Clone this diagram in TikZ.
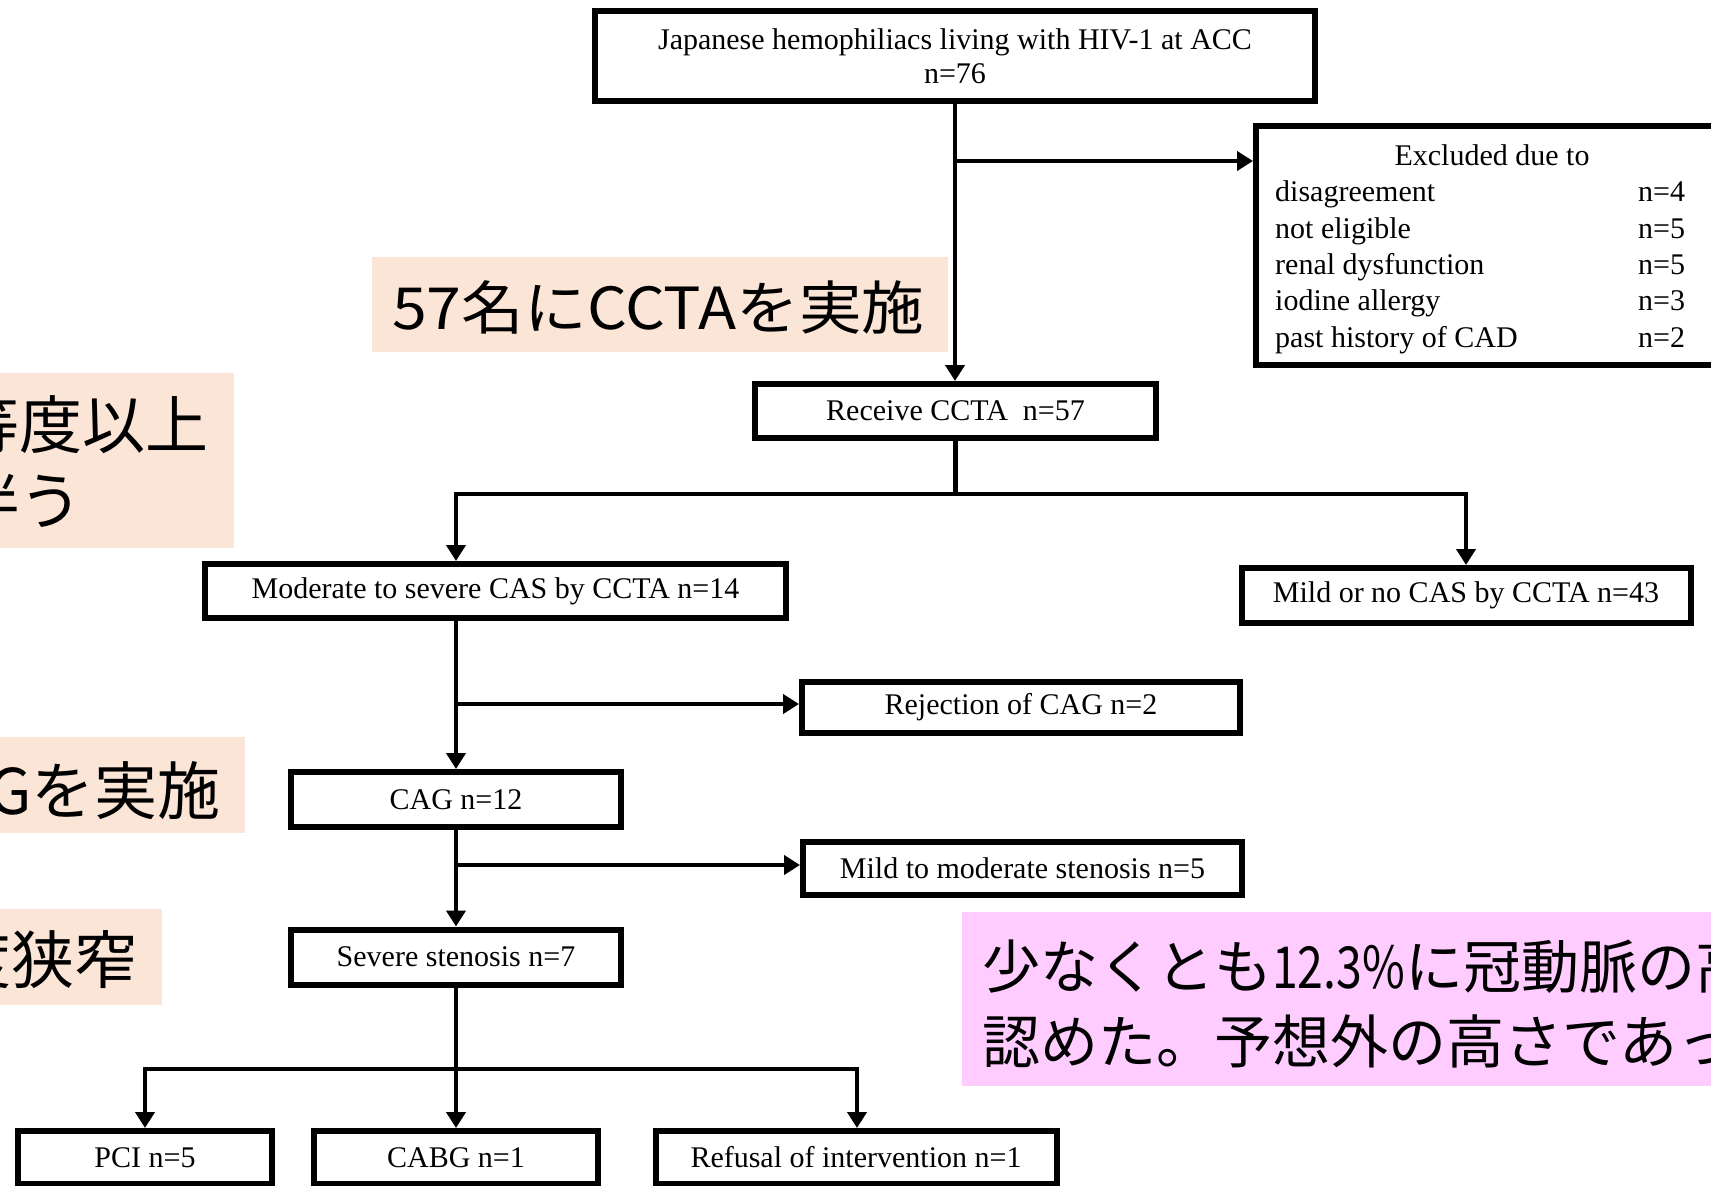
\documentclass[tikz,border=0pt]{standalone}
\usepackage{fontspec}
\usepackage{graphicx}
\setmainfont{Liberation Serif}
\newfontfamily\jpfont{Noto Sans CJK JP}
\usetikzlibrary{arrows.meta}
\definecolor{peach}{HTML}{FBE5D6}
\definecolor{pinkbg}{HTML}{FFCCFF}
\begin{document}
\begin{tikzpicture}[x=1pt,y=-1pt,
  fbox/.style={draw=black, line width=6pt, fill=white, inner sep=0pt, align=center,
    font=\fontsize{30}{34}\selectfont},
  conn/.style={line width=4.5pt, draw=black},
  arr/.style={conn, -{Triangle[width=19pt,length=16pt]}},
  jbox/.style={draw=none, inner sep=0pt, anchor=north west},
  jtext/.style={inner sep=0pt, align=left, font=\jpfont\fontsize{58}{75}\selectfont},
  jbig/.style={inner sep=0pt, align=left, font=\jpfont\fontsize{63}{76}\selectfont},
  extext/.style={inner sep=0pt, anchor=base west, font=\fontsize{30}{36}\selectfont}
]
\useasboundingbox (0,0) rectangle (1711,1186);
\clip (0,0) rectangle (1711,1186);
\fill[white] (0,0) rectangle (1711,1186);

% Japanese annotation boxes
\node[jbox, fill=peach, minimum width=576pt, minimum height=95pt] (ja) at (372,257) {};
\node[jtext, anchor=west] (jat) at ([xshift=20pt,yshift=-3pt]ja.west) {\scalebox{1.08}[1]{57名にCCTAを実施}};

\node[jbox, fill=peach, minimum width=284pt, minimum height=175pt] (jb) at (-50,373) {};
\node[jbig, anchor=west] (jbt) at (-107,462) {中等度以上\\を伴う};

\node[jbox, fill=peach, minimum width=295pt, minimum height=96pt] (jc) at (-50,737) {};
\node[jbig, anchor=east] (jct) at (221,791) {12名にCAGを実施};

\node[jbox, fill=peach, minimum width=212pt, minimum height=96pt] (jd) at (-50,909) {};
\node[jbig, anchor=east] (jdt) at (138,960) {7名に高度狭窄};

\node[jbox, fill=pinkbg, minimum width=800pt, minimum height=174pt] (je) at (962,912) {};
\node[jtext, anchor=west] (jet) at (982,1004) {少なくとも\scalebox{0.8}[1]{12.3\%}に冠動脈の高度狭窄を\\認めた。予想外の高さであった。};

% flow boxes
\node[fbox, minimum width=720pt, minimum height=90pt] (top) at (955,56) {Japanese hemophiliacs living with HIV-1 at ACC\\n=76};
\node[fbox, minimum width=472pt, minimum height=239pt] (excl) at (1492,245.5) {};
\node[extext, anchor=base] (ex0) at (1492,165) {Excluded due to};
\node[extext] (ex1) at (1275,201) {disagreement};
\node[extext] (ex2) at (1275,238) {not eligible};
\node[extext] (ex3) at (1275,274) {renal dysfunction};
\node[extext] (ex4) at (1275,310) {iodine allergy};
\node[extext] (ex5) at (1275,347) {past history of CAD};
\node[extext] (en1) at (1638,201) {n=4};
\node[extext] (en2) at (1638,238) {n=5};
\node[extext] (en3) at (1638,274) {n=5};
\node[extext] (en4) at (1638,310) {n=3};
\node[extext] (en5) at (1638,347) {n=2};

\node[fbox, minimum width=401pt, minimum height=54pt] (rec) at (955.5,411) {Receive CCTA\ \ n=57};
\node[fbox, minimum width=581pt, minimum height=54pt] (mod) at (495.5,591) {Moderate to severe CAS by CCTA n=14};
\node[fbox, minimum width=449pt, minimum height=55pt] (mild) at (1466,595.5) {Mild or no CAS by CCTA n=43};
\node[fbox, minimum width=438pt, minimum height=51pt] (rej) at (1021,707) {Rejection of CAG n=2};
\node[fbox, minimum width=330pt, minimum height=55pt] (cag) at (456,799.5) {CAG n=12};
\node[fbox, minimum width=439pt, minimum height=53pt] (mm) at (1022.5,868.5) {Mild to moderate stenosis n=5};
\node[fbox, minimum width=330pt, minimum height=55pt] (sev) at (456,957) {Severe stenosis n=7};
\node[fbox, minimum width=254pt, minimum height=53pt] (pci) at (145,1157.5) {PCI n=5};
\node[fbox, minimum width=284pt, minimum height=53pt] (cabg) at (456,1157.5) {CABG n=1};
\node[fbox, minimum width=401pt, minimum height=53pt] (ref) at (856,1157.5) {Refusal of intervention n=1};

% connectors
\coordinate (b1) at (955,161);
\draw[arr] (top.south) -- (top.south |- rec.north);
\draw[arr] (b1) -- (b1 -| excl.west);

\coordinate (b2) at (955.5,494);
\coordinate (b2l) at (456,494);
\coordinate (b2r) at (1466,494);
\draw[conn] (rec.south) -- (b2);
\draw[arr] (b2) -- (b2l) -- (b2l |- mod.north);
\draw[arr] (b2) -- (b2r) -- (b2r |- mild.north);

\draw[arr] (b2l |- mod.south) -- (cag.north);
\coordinate (b3) at (456,704);
\draw[arr] (b3) -- (b3 -| rej.west);

\draw[arr] (cag.south) -- (sev.north);
\coordinate (b4) at (456,865);
\draw[arr] (b4) -- (b4 -| mm.west);

\coordinate (b5) at (456,1069);
\coordinate (b5l) at (145,1069);
\coordinate (b5r) at (857,1069);
\draw[arr] (sev.south) -- (cabg.north);
\draw[arr] (b5) -- (b5l) -- (b5l |- pci.north);
\draw[arr] (b5) -- (b5r) -- (b5r |- ref.north);
\end{tikzpicture}
\end{document}
